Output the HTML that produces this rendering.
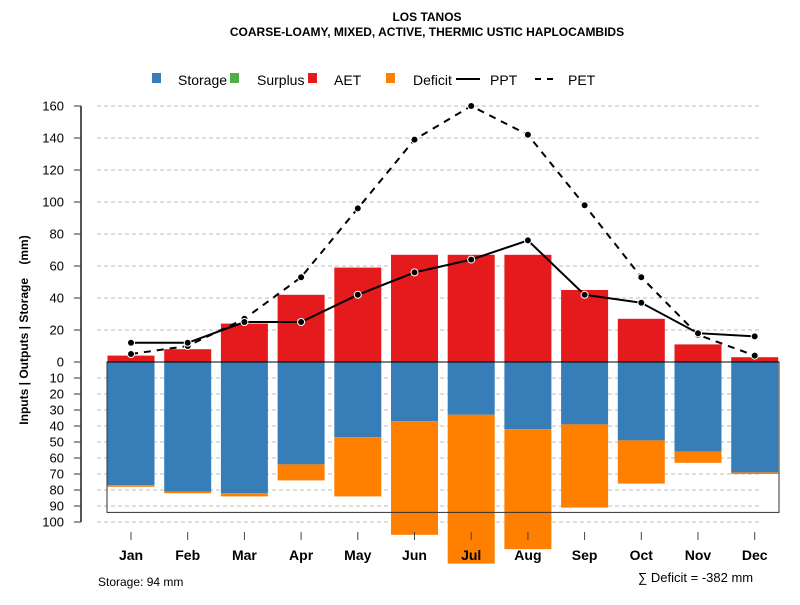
<!DOCTYPE html>
<html><head><meta charset="utf-8"><style>
body{margin:0;background:#fff}
svg{font-family:"Liberation Sans",sans-serif}
</style></head><body>
<svg id="chart" width="800" height="600">
<text x="427" y="21" text-anchor="middle" font-size="12" font-weight="bold">LOS TANOS</text>
<text x="427" y="36" text-anchor="middle" font-size="12" font-weight="bold">COARSE-LOAMY, MIXED, ACTIVE, THERMIC USTIC HAPLOCAMBIDS</text>
<g id="legend" font-size="14">
<rect x="152" y="73" width="9" height="10" fill="#377EB8"/>
<text x="178" y="85">Storage</text>
<rect x="230" y="73" width="9" height="10" fill="#4DAF4A"/>
<text x="257" y="85">Surplus</text>
<rect x="308" y="73" width="9" height="10" fill="#E41A1C"/>
<text x="334" y="85">AET</text>
<rect x="386" y="73" width="9" height="10" fill="#FF7F00"/>
<text x="413" y="85">Deficit</text>
<line x1="456" y1="79" x2="480" y2="79" stroke="#000" stroke-width="2"/>
<text x="490" y="85">PPT</text>
<line x1="535" y1="79" x2="555" y2="79" stroke="#000" stroke-width="2" stroke-dasharray="6,6"/>
<text x="568" y="85">PET</text>
</g>
<text transform="translate(28,330) rotate(-90)" text-anchor="middle" font-size="12" font-weight="bold" style="white-space:pre">Inputs | Outputs | Storage    (mm)</text>
<text x="98" y="586" font-size="12">Storage: 94 mm</text>
<text x="638" y="582" font-size="13">∑ Deficit = -382 mm</text>
<g id="grid"></g><g id="bars"></g><g id="axes"></g><g id="lines"></g>
</svg>
<script>
const months=["Jan","Feb","Mar","Apr","May","Jun","Jul","Aug","Sep","Oct","Nov","Dec"];
const aet=[4,8,24,42,59,67,67,67,45,27,11,3];
const storage=[77,81,82,64,47,37,33,42,39,49,56,69];
const deficit=[1,1,2,10,37,71,93,75,52,27,7,1];
const ppt=[12,12,25,25,42,56,64,76,42,37,18,16];
const pet=[5,10,27,53,96,139,160,142,98,53,17,4];
const posTicks=[0,20,40,60,80,100,120,140,160];
const negTicks=[10,20,30,40,50,60,70,80,90,100];
const storageCap=94;
const NS="http://www.w3.org/2000/svg";
const y0=362,k=1.6;
const yUp=v=>y0-v*k, yDn=v=>y0+v*k;
const xC=i=>131+i*56.7, bw=47;
function mk(t,a,p){const e=document.createElementNS(NS,t);for(const key in a)e.setAttribute(key,a[key]);p.appendChild(e);return e;}
const G=document.getElementById('grid'),B=document.getElementById('bars'),A=document.getElementById('axes'),L=document.getElementById('lines');
posTicks.forEach(v=>{if(v===0)return;const l=mk('line',{x1:97,x2:760,y1:yUp(v),y2:yUp(v),stroke:'#bbb','stroke-dasharray':'4,3'},G);

});
negTicks.forEach(v=>{const l=mk('line',{x1:97,x2:760,y1:yDn(v),y2:yDn(v),stroke:'#bbb','stroke-dasharray':'4,3'},G);

});
months.forEach((m,i)=>{
 const x=xC(i)-bw/2;
 const r=mk('rect',{x:x,y:yUp(aet[i]),width:bw,height:aet[i]*k,fill:'#E41A1C'},B);
 
 
 const s=mk('rect',{x:x,y:y0,width:bw,height:storage[i]*k,fill:'#377EB8'},B);
 
 
 const d=mk('rect',{x:x,y:yDn(storage[i]),width:bw,height:deficit[i]*k,fill:'#FF7F00'},B);
 
 
 const t=mk('line',{x1:xC(i),x2:xC(i),y1:532,y2:540,stroke:'#444'},A);
 
 
 const lb=mk('text',{x:xC(i),y:560,'text-anchor':'middle','font-size':14,'font-weight':'bold'},A);
 lb.textContent=m;
 
 
});
const box=mk('rect',{x:107,y:y0,width:672,height:storageCap*k,fill:'none',stroke:'#333'},B);


const zl=mk('line',{x1:107,x2:779,y1:y0,y2:y0,stroke:'#000'},B);


const ax=mk('line',{x1:81,x2:81,y1:yUp(160),y2:yDn(100),stroke:'#555','stroke-width':2},A);


function ytick(y,label,name){
 const t=mk('line',{x1:74,x2:81,y1:y,y2:y,stroke:'#333'},A);
 
 
 const tx=mk('text',{x:64,y:y+4.5,'text-anchor':'end','font-size':13},A);
 tx.textContent=label;
 
 
}
posTicks.forEach(v=>ytick(yUp(v),String(v),'pos-'+v));
negTicks.forEach(v=>ytick(yDn(v),String(v),'neg-'+v));
function series(vals,dash,name){
 const pts=vals.map((v,i)=>xC(i)+','+yUp(v)).join(' ');
 const a={points:pts,fill:'none',stroke:'#000','stroke-width':2};
 if(dash)a['stroke-dasharray']='7,6';
 const p=mk('polyline',a,L);
 
 
 vals.forEach((v,i)=>{const c=mk('circle',{cx:xC(i),cy:yUp(v),r:3.5,fill:'#000',stroke:'#fff','stroke-width':1},L);
 
 });
}
series(pet,true,'pet');
series(ppt,false,'ppt');
</script>
</body></html>
